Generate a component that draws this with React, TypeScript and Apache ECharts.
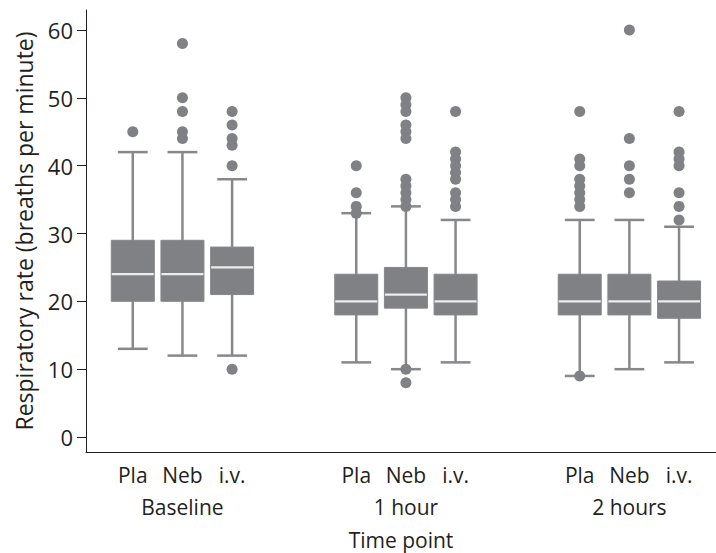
import React, { useEffect, useRef } from "react";
import * as echarts from "echarts";

// Time points and treatment arms
const groups = ["Baseline", "1 hour", "2 hours"];
const treatments = ["Pla", "Neb", "i.v."];

// Box statistics per arm: [min, Q1, median, Q3, max] (breaths per minute)
const baselineStats = [
  [13, 20, 24, 29, 42],
  [12, 20, 24, 29, 42],
  [12, 21, 25, 28, 38],
];
const hour1Stats = [
  [11, 18, 20, 24, 33],
  [10, 19, 21, 25, 34],
  [11, 18, 20, 24, 32],
];
const hour2Stats = [
  [9, 18, 20, 24, 32],
  [10, 18, 20, 24, 32],
  [11, 17.5, 20, 23, 31],
];

// Outlying observations per arm
const baselineOutliers = [
  [45],
  [58, 50, 48, 45, 44],
  [48, 46, 44, 43, 40, 10],
];
const hour1Outliers = [
  [40, 36, 34, 33],
  [50, 49, 48, 46, 45, 44, 38, 37, 36, 35, 34, 10, 8],
  [48, 42, 41, 40, 39, 38, 36, 35, 34],
];
const hour2Outliers = [
  [48, 41, 40, 38, 37, 36, 35, 34, 9],
  [60, 44, 40, 38, 36],
  [48, 42, 41, 40, 36, 34, 32],
];

const yTicks = [0, 10, 20, 30, 40, 50, 60];

const statsByGroup = [baselineStats, hour1Stats, hour2Stats];
const outliersByGroup = [baselineOutliers, hour1Outliers, hour2Outliers];

// Horizontal layout: arms one unit apart, time points separated by a wider gap
const GROUP_STEP = 4.5;
const posOf = (g: number, t: number) => g * GROUP_STEP + t;

const FONT = "'Open Sans', 'Noto Sans', sans-serif";
const TEXT = "#231f20";
const BOX_FILL = "#808184";
const WHISKER = "#87888b";
const MEDIAN = "#ececec";

export default function App() {
  const ref = useRef<HTMLDivElement>(null);

  useEffect(() => {
    if (!ref.current) return;
    const chart = echarts.init(ref.current, undefined, { renderer: "svg" });

    const boxData: number[][] = [];
    const outlierData: number[][] = [];
    const armPositions: number[] = [];
    const armNames: Record<string, string> = {};
    const groupPositions: number[] = [];
    const groupNames: Record<string, string> = {};

    statsByGroup.forEach((stats, g) => {
      stats.forEach((s, t) => {
        const p = posOf(g, t);
        boxData.push([p, ...s]);
        armPositions.push(p);
        armNames[String(p)] = treatments[t];
        outliersByGroup[g][t].forEach((v) => outlierData.push([p, v]));
      });
      const mid = posOf(g, 1);
      groupPositions.push(mid);
      groupNames[String(mid)] = groups[g];
    });

    const xMin = -0.942;
    const xMax = 11.744;

    const option: any = {
      animation: false,
      backgroundColor: "#ffffff",
      textStyle: { fontFamily: FONT },
      grid: {
        left: 86,
        right: 0,
        top: 10,
        bottom: 101,
        containLabel: false,
        outerBoundsMode: "none",
      },
      xAxis: [
        {
          type: "value",
          min: xMin,
          max: xMax,
          position: "bottom",
          axisLine: { show: true, onZero: false, lineStyle: { color: TEXT, width: 1 } },
          axisTick: { show: false },
          splitLine: { show: false },
          axisLabel: {
            customValues: armPositions,
            formatter: (v: number) => armNames[String(v)] ?? "",
            fontSize: 21,
            color: TEXT,
            fontFamily: FONT,
            margin: 12,
          },
        },
        {
          type: "value",
          min: xMin,
          max: xMax,
          position: "bottom",
          axisLine: { show: false },
          axisTick: { show: false },
          splitLine: { show: false },
          axisLabel: {
            customValues: groupPositions,
            formatter: (v: number) => groupNames[String(v)] ?? "",
            fontSize: 21,
            color: TEXT,
            fontFamily: FONT,
            margin: 44,
          },
          name: "Time point",
          nameLocation: "middle",
          nameGap: 77,
          nameTextStyle: { fontSize: 21, color: TEXT, fontFamily: FONT },
        },
      ],
      yAxis: {
        type: "value",
        min: -2.21,
        max: 62.95,
        axisLine: { show: true, onZero: false, lineStyle: { color: TEXT, width: 1 } },
        axisTick: {
          show: true,
          customValues: yTicks,
          length: 9,
          lineStyle: { color: TEXT, width: 1 },
        },
        splitLine: { show: false },
        axisLabel: {
          customValues: yTicks,
          fontSize: 22,
          color: TEXT,
          fontFamily: FONT,
          margin: 13,
        },
        name: "Respiratory rate (breaths per minute)",
        nameLocation: "middle",
        nameGap: 51,
        nameTextStyle: { fontSize: 23, color: TEXT, fontFamily: FONT },
      },
      series: [
        {
          type: "custom",
          xAxisIndex: 0,
          yAxisIndex: 0,
          encode: { x: 0, y: [1, 2, 3, 4, 5] },
          data: boxData,
          z: 2,
          renderItem: (_params: any, api: any) => {
            const x = api.value(0);
            const lo = api.coord([x, api.value(1)]);
            const q1 = api.coord([x, api.value(2)]);
            const md = api.coord([x, api.value(3)]);
            const q3 = api.coord([x, api.value(4)]);
            const hi = api.coord([x, api.value(5)]);
            const unit = api.size([1, 0])[0];
            const bw = unit * 0.866;
            const cw = unit * 0.6;
            const cx = lo[0];
            const wStyle = { stroke: WHISKER, lineWidth: 2.5 };
            return {
              type: "group",
              children: [
                { type: "line", shape: { x1: cx, y1: hi[1], x2: cx, y2: lo[1] }, style: wStyle },
                { type: "line", shape: { x1: cx - cw / 2, y1: hi[1], x2: cx + cw / 2, y2: hi[1] }, style: wStyle },
                { type: "line", shape: { x1: cx - cw / 2, y1: lo[1], x2: cx + cw / 2, y2: lo[1] }, style: wStyle },
                {
                  type: "rect",
                  shape: { x: cx - bw / 2, y: q3[1], width: bw, height: q1[1] - q3[1] },
                  style: { fill: BOX_FILL, stroke: "#86878a", lineWidth: 1 },
                },
                {
                  type: "line",
                  shape: { x1: cx - bw / 2 + 0.5, y1: md[1], x2: cx + bw / 2 - 0.5, y2: md[1] },
                  style: { stroke: MEDIAN, lineWidth: 2.2 },
                },
              ],
            };
          },
        },
        {
          type: "scatter",
          xAxisIndex: 0,
          yAxisIndex: 0,
          data: outlierData,
          symbol: "circle",
          symbolSize: 11,
          itemStyle: { color: BOX_FILL, opacity: 1 },
          z: 3,
        },
      ],
    };

    chart.setOption(option);
    return () => chart.dispose();
  }, []);

  return (
    <div
      ref={ref}
      style={{ position: "fixed", left: 0, top: 0, width: 716, height: 553, background: "#fff" }}
    />
  );
}
